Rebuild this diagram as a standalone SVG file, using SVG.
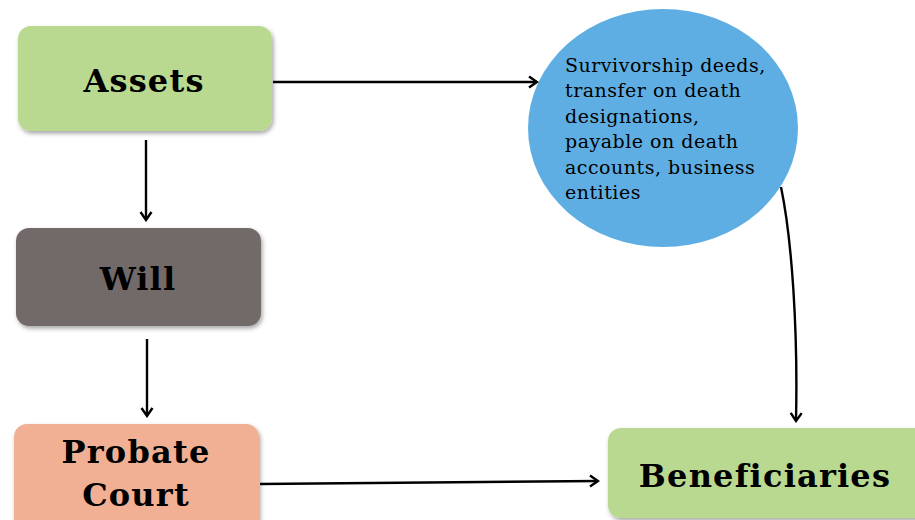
<svg xmlns="http://www.w3.org/2000/svg" width="915" height="520" viewBox="0 0 915 520">
<defs>
<filter id="sh" x="-10%" y="-10%" width="125%" height="130%">
<feDropShadow dx="1.5" dy="2.5" stdDeviation="2" flood-color="#000" flood-opacity="0.35"/>
</filter>
<marker id="ah" markerWidth="12" markerHeight="14" refX="10" refY="7" orient="auto" markerUnits="userSpaceOnUse">
<path d="M2,1.5 L10,7 L2,12.5" fill="none" stroke="#000" stroke-width="2.4"/>
</marker>
</defs>
<style>
.box{stroke:none;filter:url(#sh)}
.t{font-family:"DejaVu Serif","Liberation Serif",serif;font-weight:bold;font-size:32px;letter-spacing:1.2px;fill:#000;text-anchor:middle}
.s{font-family:"DejaVu Serif","Liberation Serif",serif;font-size:19px;letter-spacing:0.5px;fill:#000}
.c{fill:none;stroke:#000;stroke-width:2.4;marker-end:url(#ah)}
</style>
<rect width="915" height="520" fill="#fff"/>
<g id="assets">
<rect class="box" x="18" y="26" width="254" height="105" rx="13" fill="#BAD990"/>
<text class="t" x="144" y="92">Assets</text>
</g>
<g id="will">
<rect class="box" x="16" y="228" width="245" height="98" rx="13" fill="#716B69"/>
<text class="t" x="138" y="290">Will</text>
</g>
<g id="probate">
<rect class="box" x="14" y="424" width="245" height="110" rx="13" fill="#F1B094"/>
<text class="t" x="136" y="463">Probate</text>
<text class="t" x="136" y="506">Court</text>
</g>
<g id="beneficiaries">
<rect class="box" x="608" y="428" width="320" height="90" rx="13" fill="#BAD990"/>
<text class="t" x="765" y="487">Beneficiaries</text>
</g>
<g id="nonprobate">
<ellipse cx="663" cy="128" rx="135" ry="119" fill="#5FAEE3"/>
<text class="s" x="565">
<tspan x="565" y="72">Survivorship deeds,</tspan>
<tspan x="565" y="97">transfer on death</tspan>
<tspan x="565" y="123">designations,</tspan>
<tspan x="565" y="148">payable on death</tspan>
<tspan x="565" y="174">accounts, business</tspan>
<tspan x="565" y="199">entities</tspan>
</text>
</g>
<g id="connectors">
<path class="c" d="M273,82 L537,82"/>
<path class="c" d="M146,140 L146,220"/>
<path class="c" d="M147,339 L147,416"/>
<path class="c" d="M260,484 L598,481"/>
<path class="c" d="M781,187 C792,240 798,330 796,421"/>
</g>
</svg>
